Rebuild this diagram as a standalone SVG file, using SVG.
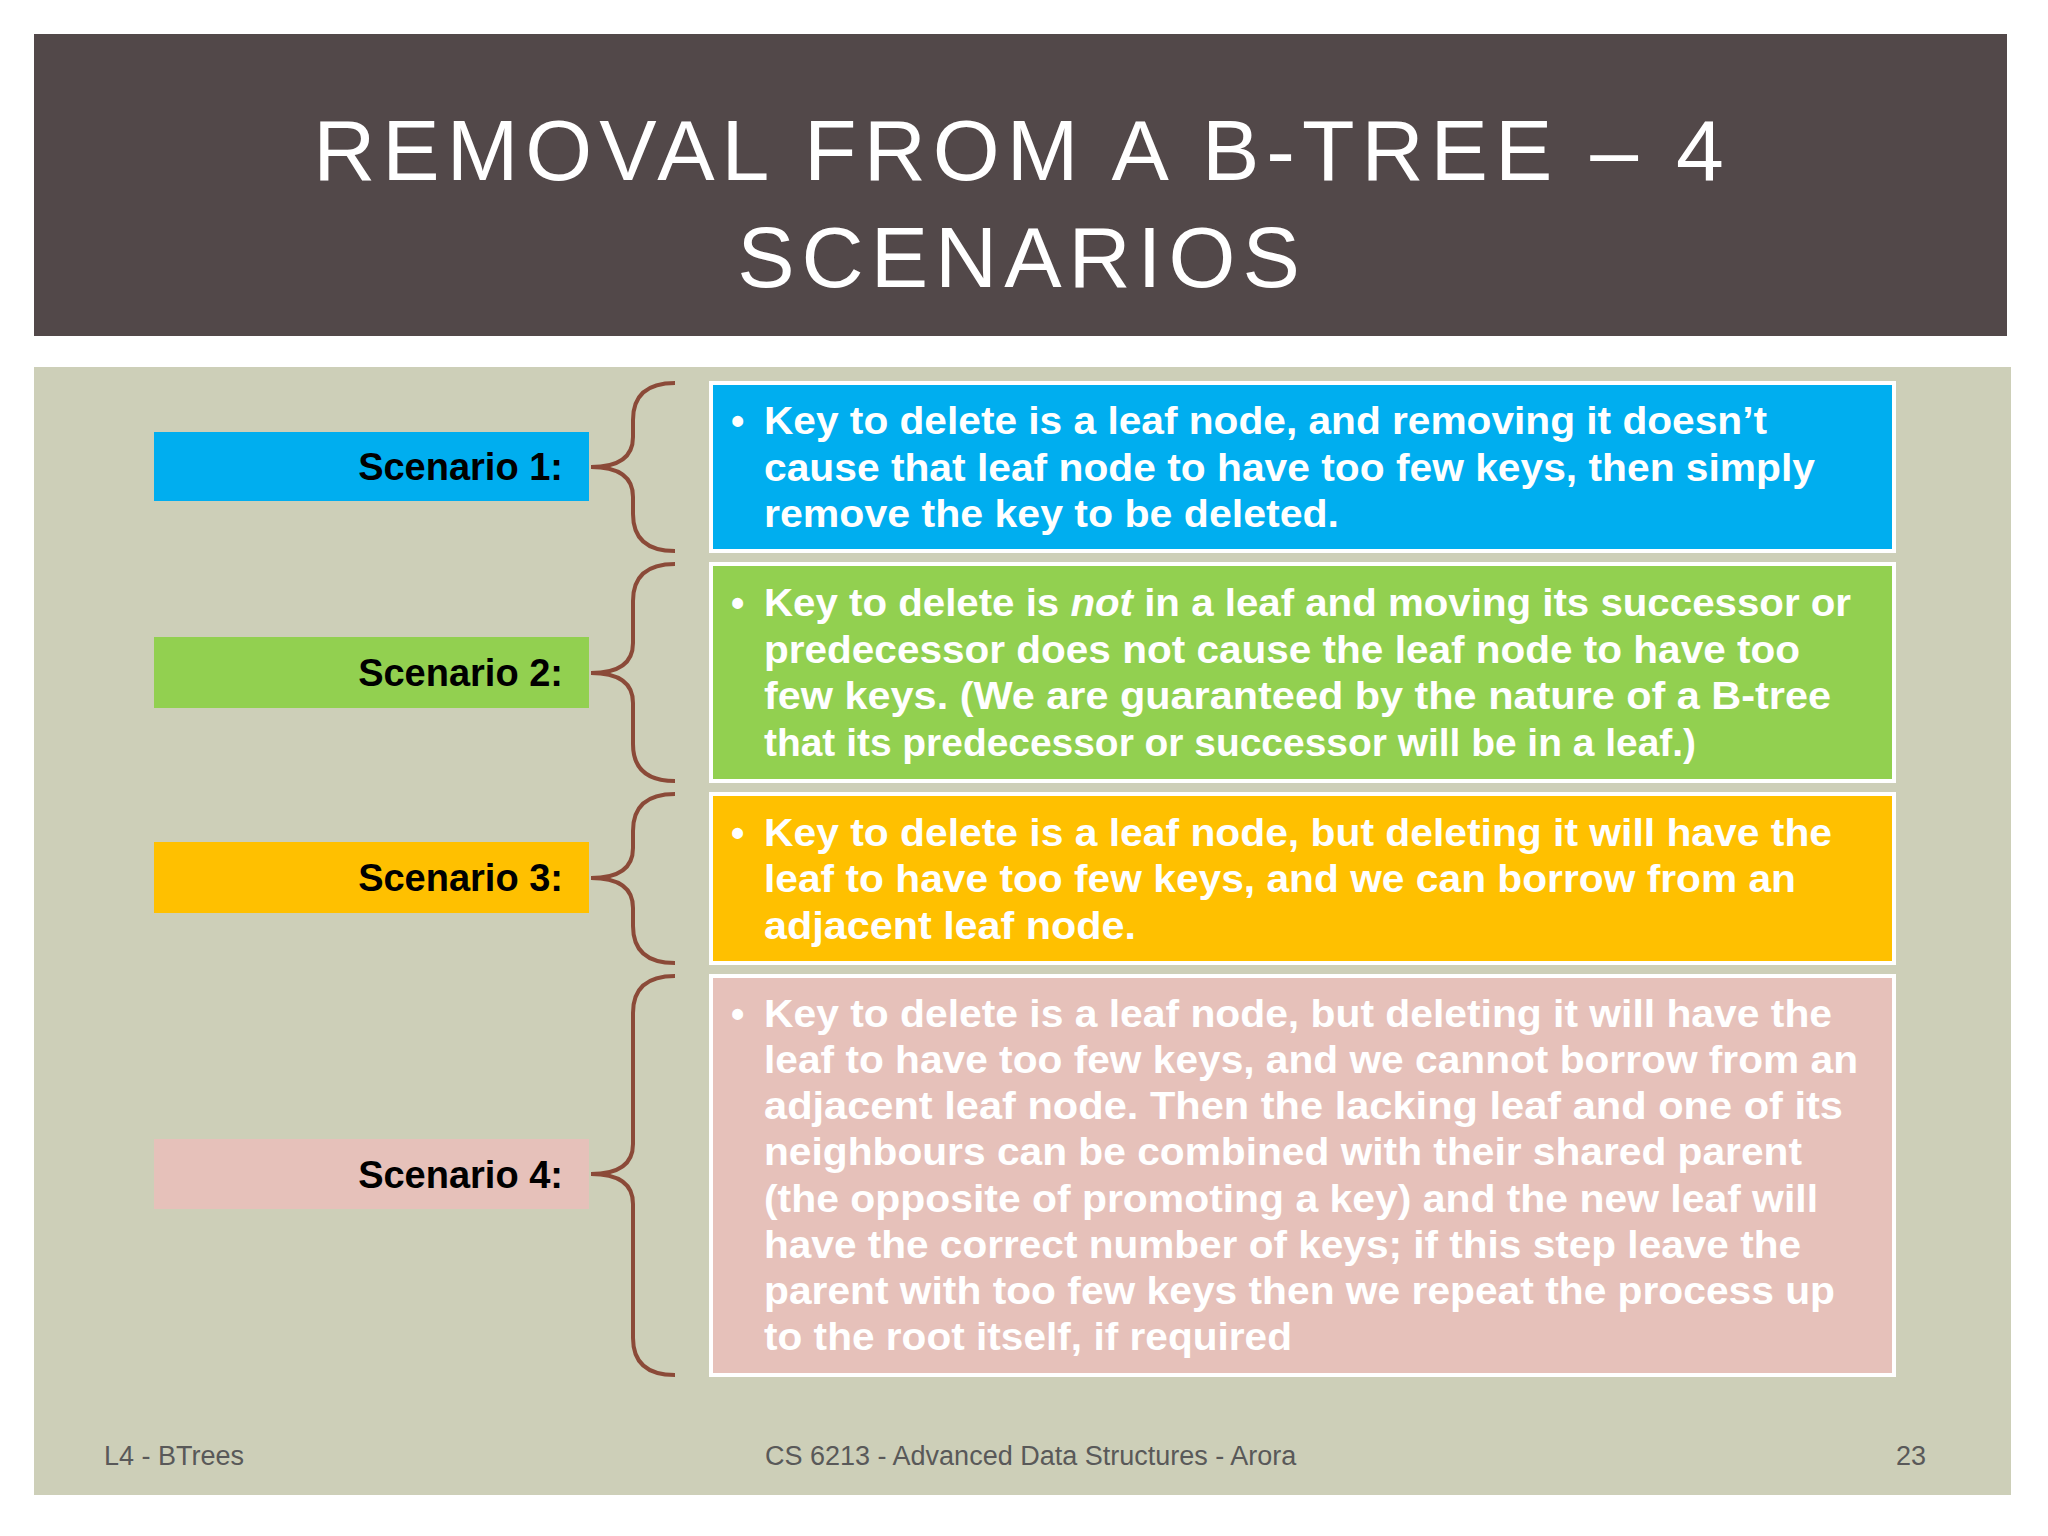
<svg xmlns="http://www.w3.org/2000/svg" width="2048" height="1536" viewBox="0 0 2048 1536">
<style>
.t{font-family:"Liberation Sans","Open Sans",sans-serif;font-weight:bold;font-size:38px;fill:#fff}
.lab{font-family:"Liberation Sans",sans-serif;font-weight:bold;font-size:38px;fill:#000;text-anchor:end}
.br{fill:none;stroke:#8B4A38;stroke-width:4}
.box{stroke:#fff;stroke-width:4}
.ft{font-family:"Liberation Sans",sans-serif;font-size:27px;fill:#595959}
</style>
<rect width="2048" height="1536" fill="#fff"/>
<rect x="34" y="34" width="1973" height="302" fill="#524849"/>
<g font-family="Liberation Sans, sans-serif" font-size="86" fill="#fff" text-anchor="middle" letter-spacing="7">
<text x="1022" y="180">REMOVAL FROM A B-TREE – 4</text>
<text x="1022" y="287">SCENARIOS</text>
</g>
<rect x="34" y="367" width="1977" height="1128" fill="#CDCFB8"/>
<g id="s1"><rect x="154" y="432" width="435" height="69" fill="#00AEEF"/><text class="lab" x="563" y="480">Scenario 1:</text></g>
<g id="s2"><rect x="154" y="637" width="435" height="71" fill="#92D050"/><text class="lab" x="563" y="686">Scenario 2:</text></g>
<g id="s3"><rect x="154" y="842" width="435" height="71" fill="#FFC000"/><text class="lab" x="563" y="891">Scenario 3:</text></g>
<g id="s4"><rect x="154" y="1139" width="435" height="70" fill="#E6C1BA"/><text class="lab" x="563" y="1188">Scenario 4:</text></g>
<g id="connectors">
<path class="br" d="M675,383 Q633,383 633,420 L633,437 Q633,467 591,467 Q633,467 633,497 L633,514 Q633,551 675,551"/>
<path class="br" d="M675,564 Q633,564 633,601 L633,643 Q633,673 591,673 Q633,673 633,703 L633,744 Q633,781 675,781"/>
<path class="br" d="M675,794 Q633,794 633,831 L633,848 Q633,878 591,878 Q633,878 633,908 L633,926 Q633,963 675,963"/>
<path class="br" d="M675,976 Q633,976 633,1013 L633,1144 Q633,1174 591,1174 Q633,1174 633,1204 L633,1338 Q633,1375 675,1375"/>
</g>
<g id="b1"><rect class="box" x="711" y="383" width="1183" height="168" fill="#00AEEF"/>
<text class="t" x="731" y="434">•</text>
<text class="t" x="764" y="434" textLength="1003" lengthAdjust="spacingAndGlyphs">Key to delete is a leaf node, and removing it doesn’t</text>
<text class="t" x="764" y="481" textLength="1051" lengthAdjust="spacingAndGlyphs">cause that leaf node to have too few keys, then simply</text>
<text class="t" x="764" y="527" textLength="575" lengthAdjust="spacingAndGlyphs">remove the key to be deleted.</text></g>
<g id="b2"><rect class="box" x="711" y="564" width="1183" height="217" fill="#92D050"/>
<text class="t" x="731" y="616">•</text>
<text class="t" x="764" y="616" textLength="1087" lengthAdjust="spacingAndGlyphs">Key to delete is <tspan font-style="italic">not</tspan> in a leaf and moving its successor or</text>
<text class="t" x="764" y="663" textLength="1036" lengthAdjust="spacingAndGlyphs">predecessor does not cause the leaf node to have too</text>
<text class="t" x="764" y="709" textLength="1067" lengthAdjust="spacingAndGlyphs">few keys.  (We are guaranteed by the nature of a B-tree</text>
<text class="t" x="764" y="756" textLength="932" lengthAdjust="spacingAndGlyphs">that its predecessor or successor will be in a leaf.)</text></g>
<g id="b3"><rect class="box" x="711" y="794" width="1183" height="169" fill="#FFC000"/>
<text class="t" x="731" y="846">•</text>
<text class="t" x="764" y="846" textLength="1068" lengthAdjust="spacingAndGlyphs">Key to delete is a leaf node, but deleting it will have the</text>
<text class="t" x="764" y="892" textLength="1032" lengthAdjust="spacingAndGlyphs">leaf to have too few keys, and we can borrow from an</text>
<text class="t" x="764" y="939" textLength="372" lengthAdjust="spacingAndGlyphs">adjacent leaf node.</text></g>
<g id="b4"><rect class="box" x="711" y="976" width="1183" height="399" fill="#E6C1BA"/>
<text class="t" x="731" y="1027">•</text>
<text class="t" x="764" y="1027" textLength="1068" lengthAdjust="spacingAndGlyphs">Key to delete is a leaf node, but deleting it will have the</text>
<text class="t" x="764" y="1073" textLength="1094" lengthAdjust="spacingAndGlyphs">leaf to have too few keys, and we cannot borrow from an</text>
<text class="t" x="764" y="1119" textLength="1079" lengthAdjust="spacingAndGlyphs">adjacent leaf node.  Then the lacking leaf and one of its</text>
<text class="t" x="764" y="1165" textLength="1038" lengthAdjust="spacingAndGlyphs">neighbours can be combined with their shared parent</text>
<text class="t" x="764" y="1212" textLength="1054" lengthAdjust="spacingAndGlyphs">(the opposite of promoting a key) and the new leaf will</text>
<text class="t" x="764" y="1258" textLength="1037" lengthAdjust="spacingAndGlyphs">have the correct number of keys; if this step leave the</text>
<text class="t" x="764" y="1304" textLength="1071" lengthAdjust="spacingAndGlyphs">parent with too few keys then we repeat the process up</text>
<text class="t" x="764" y="1350" textLength="528" lengthAdjust="spacingAndGlyphs">to the root itself, if required</text></g>
<text class="ft" x="104" y="1465">L4 - BTrees</text>
<text class="ft" x="765" y="1465">CS 6213 - Advanced Data Structures - Arora</text>
<text class="ft" x="1926" y="1465" text-anchor="end">23</text>
</svg>
